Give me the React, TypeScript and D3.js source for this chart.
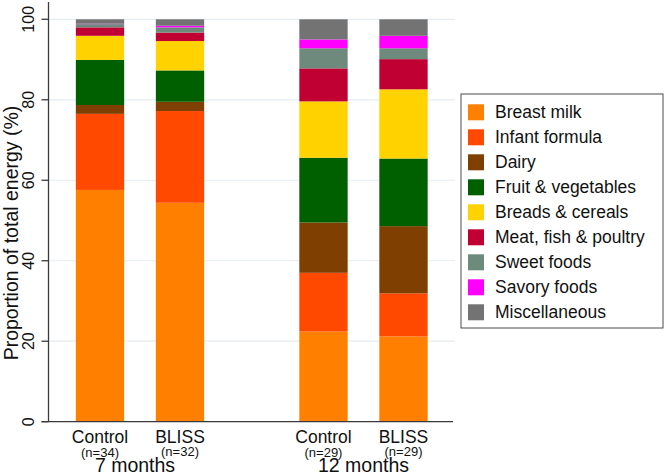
import React from "react";
import * as d3 from "d3";

const bars = ["C7", "B7", "C12", "B12"];
const groupNames = ["Control", "BLISS"];
const timeNames = ["7 months", "12 months"];
const nLabels = ["(n=34)", "(n=32)", "(n=29)", "(n=29)"];
const categories = [
  "Breast milk",
  "Infant formula",
  "Dairy",
  "Fruit & vegetables",
  "Breads & cereals",
  "Meat, fish & poultry",
  "Sweet foods",
  "Savory foods",
  "Miscellaneous",
];
const colors = ["#ff8000", "#ff4800", "#7f3f00", "#006000", "#ffd200", "#c00032", "#6e8a7d", "#ff00ff", "#737373"];
const breastMilk = [57.6, 54.4, 22.4, 21.2];
const infantFormula = [18.9, 22.8, 14.6, 10.7];
const dairy = [2.2, 2.3, 12.5, 16.7];
const fruitVeg = [11.2, 7.8, 16.1, 16.8];
const breads = [6.0, 7.3, 14.0, 17.2];
const meat = [2.1, 2.1, 8.2, 7.5];
const sweet = [0.8, 1.3, 5.0, 2.7];
const savory = [0.1, 0.4, 2.2, 3.1];
const misc = [1.1, 1.6, 5.0, 4.1];
const yTicks = [0, 20, 40, 60, 80, 100];

const seriesValues = [breastMilk, infantFormula, dairy, fruitVeg, breads, meat, sweet, savory, misc];

const FONT = "'Liberation Sans', Arial, Helvetica, sans-serif";

export default function App() {
  const W = 666, H = 475;
  const y = d3.scaleLinear().domain([0, 100]).range([421.7, 19.3]);
  const outer = d3.scaleBand<string>().domain(timeNames).range([60, 443.5]).paddingInner(0.284).paddingOuter(0);
  const inner = d3.scaleBand<string>().domain(groupNames).range([0, outer.bandwidth()]).paddingInner(0.396).paddingOuter(0.198);

  const table = bars.map((b, i) => {
    const row: any = { bar: b, time: timeNames[Math.floor(i / 2)], group: groupNames[i % 2] };
    categories.forEach((c, k) => (row[c] = seriesValues[k][i]));
    return row;
  });
  const stacked = d3.stack().keys(categories)(table);
  const xOf = (row: any) => (outer(row.time) as number) + (inner(row.group) as number);

  const axisColor = "#3a3a3a";
  const legendX = 461, legendY = 94, legendW = 202, legendH = 234;

  return (
    <svg width={W} height={H} style={{ position: "absolute", left: 0, top: 0, background: "#fff" }} fontFamily={FONT}>
      {/* gridlines */}
      {yTicks.filter((t) => t > 0).map((t) => (
        <line key={"g" + t} x1={49} x2={455} y1={y(t)} y2={y(t)} stroke="#e6edf1" strokeWidth={1.2} />
      ))}
      {/* bars */}
      {stacked.map((s, k) => (
        <g key={s.key} fill={colors[k]}>
          {s.map((d, i) => (
            <rect key={i} x={xOf(d.data)} width={inner.bandwidth()} y={y(d[1])} height={y(d[0]) - y(d[1])} />
          ))}
        </g>
      ))}
      {/* y axis */}
      <line x1={48.5} x2={48.5} y1={2} y2={y(0)} stroke={axisColor} strokeWidth={1.3} />
      <line x1={41.5} x2={453} y1={y(0)} y2={y(0)} stroke={axisColor} strokeWidth={1.3} />
      {yTicks.map((t) => (
        <g key={"t" + t}>
          <line x1={41.5} x2={48.5} y1={y(t)} y2={y(t)} stroke={axisColor} strokeWidth={1.3} />
          <text transform={`translate(28,${y(t)}) rotate(-90)`} textAnchor="middle" dominantBaseline="central" fontSize={16} fill="#111">
            {t}
          </text>
        </g>
      ))}
      <text transform={`translate(10.5,${233}) rotate(-90)`} textAnchor="middle" dominantBaseline="central" fontSize={19.5} fill="#111">
        Proportion of total energy (%)
      </text>
      {/* x labels */}
      {table.map((row, i) => {
        const cx = xOf(row) + inner.bandwidth() / 2;
        return (
          <g key={"xl" + i}>
            <text x={cx} y={443} textAnchor="middle" fontSize={17.5} fill="#111">
              {row.group}
            </text>
            <text x={cx} y={i % 2 === 1 ? 455.5 : 457} textAnchor="middle" fontSize={13} fill="#111">
              {nLabels[i]}
            </text>
          </g>
        );
      })}
      {timeNames.map((t, j) => (
        <text key={t} x={(outer(t) as number) + outer.bandwidth() / 2 - (j === 0 ? 5 : 0)} y={472} textAnchor="middle" fontSize={19.5} fill="#111">
          {t}
        </text>
      ))}
      {/* legend */}
      <rect x={legendX} y={legendY} width={legendW} height={legendH} fill="#fff" stroke="#4a4a4a" strokeWidth={1} />
      {categories.map((c, k) => (
        <g key={"lg" + c} transform={`translate(0,${112.3 + 25 * k})`}>
          <rect x={468} y={-8} width={16} height={16} fill={colors[k]} />
          <text x={495} y={0} dominantBaseline="central" fontSize={17.5} fill="#111">
            {c}
          </text>
        </g>
      ))}
    </svg>
  );
}
